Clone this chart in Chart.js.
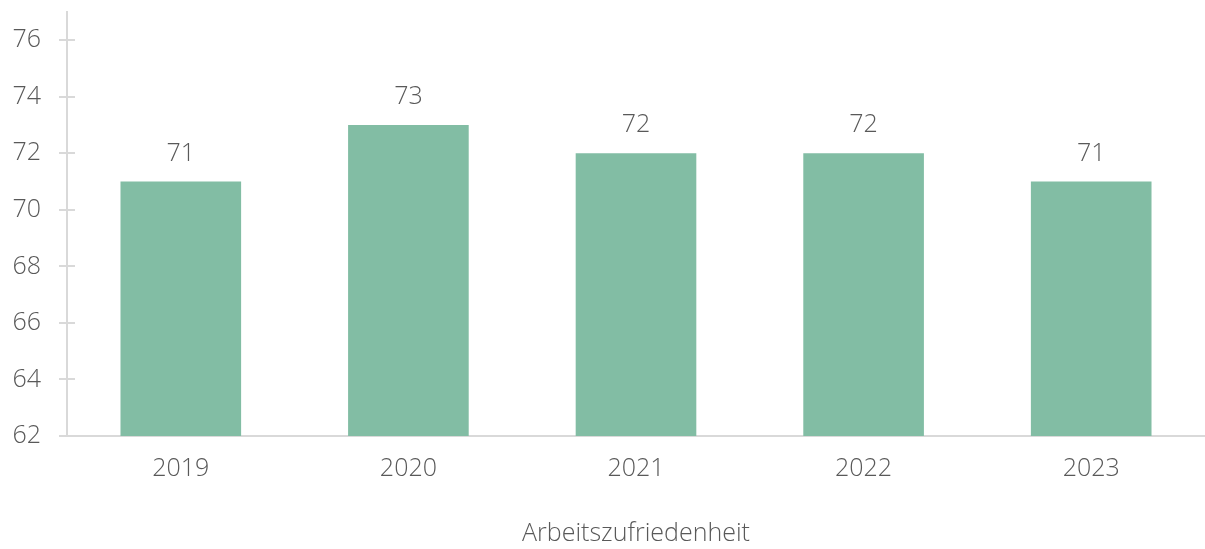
<!DOCTYPE html>
<html>
<head>
<meta charset="utf-8">
<script src="https://cdn.jsdelivr.net/npm/chart.js@4"></script>
<style>
  html, body { margin: 0; padding: 0; background: #fff; }
  #wrap { width: 1205px; height: 549px; }
</style>
</head>
<body>
<div id="wrap"><canvas id="barChart" width="1205" height="549"></canvas></div>
<script>
var years = ['2019', '2020', '2021', '2022', '2023'];
var satisfaction = [71, 73, 72, 72, 71];
var yTicks = [62, 64, 66, 68, 70, 72, 74, 76];
var axisTitle = 'Arbeitszufriedenheit';

var textColor = '#595959';
var lineColor = '#d9d9d9';
var fontFamily = "'Open Sans', sans-serif";
var fontSize = 25;

// values written above the bars
var valueLabels = {
    id: 'valueLabels',
    afterDatasetsDraw: function (chart) {
        var ctx = chart.ctx;
        var meta = chart.getDatasetMeta(0);
        ctx.save();
        ctx.fillStyle = textColor;
        ctx.font = '300 ' + fontSize + 'px ' + fontFamily;
        ctx.textAlign = 'center';
        ctx.textBaseline = 'middle';
        meta.data.forEach(function (bar, i) {
            ctx.fillText(satisfaction[i], bar.x, bar.y - 28);
        });
        ctx.restore();
    }
};

// small cross ticks on the y axis (inside part)
var innerTicks = {
    id: 'innerTicks',
    afterDraw: function (chart) {
        var ctx = chart.ctx;
        var y = chart.scales.y;
        ctx.save();
        ctx.strokeStyle = lineColor;
        ctx.lineWidth = 2;
        y.ticks.forEach(function (t) {
            var py = Math.round(y.getPixelForValue(t.value));
            ctx.beginPath();
            ctx.moveTo(y.right, py);
            ctx.lineTo(y.right + 8, py);
            ctx.stroke();
        });
        ctx.restore();
    }
};

var ctx = document.getElementById('barChart').getContext('2d');
var chart = new Chart(ctx, {
    type: 'bar',
    data: {
        labels: years,
        datasets: [{
            label: axisTitle,
            data: satisfaction,
            backgroundColor: '#82bda4',
            barPercentage: 0.53,
            categoryPercentage: 1
        }]
    },
    options: {
        responsive: false,
        animation: false,
        layout: { padding: { top: 12, right: 0, left: 0, bottom: 0 } },
        plugins: {
            legend: { display: false },
            tooltip: { enabled: false }
        },
        scales: {
            x: {
                grid: { display: false, drawTicks: false },
                border: { display: true, color: lineColor, width: 2 },
                ticks: {
                    color: textColor,
                    padding: 18,
                    font: { family: fontFamily, size: fontSize, weight: '300' }
                },
                title: {
                    display: true,
                    text: axisTitle,
                    color: textColor,
                    padding: { top: 38, bottom: 0 },
                    font: { family: fontFamily, size: fontSize, weight: '300' }
                },
                afterFit: function (scale) { scale.height = 113; }
            },
            y: {
                min: 62,
                max: 77,
                grid: { drawOnChartArea: false, color: lineColor, lineWidth: 2, tickLength: 8 },
                border: { display: true, color: lineColor, width: 2 },
                afterBuildTicks: function (axis) {
                    axis.ticks = yTicks.map(function (v) { return { value: v }; });
                },
                ticks: {
                    color: textColor,
                    padding: 18,
                    font: { family: fontFamily, size: fontSize, weight: '300' }
                },
                afterFit: function (scale) {
                    scale.width = 67;
                    scale.paddingTop = 0;
                }
            }
        }
    },
    plugins: [valueLabels, innerTicks]
});
</script>
</body>
</html>
